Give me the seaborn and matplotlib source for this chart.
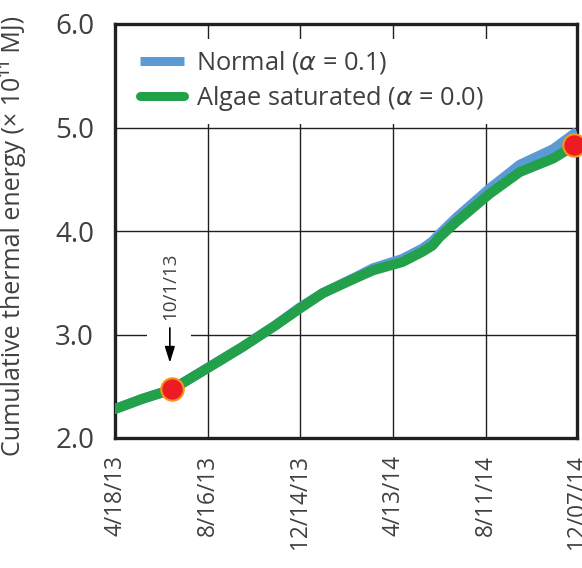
import matplotlib
matplotlib.use("Agg")
import matplotlib.pyplot as plt
import matplotlib.dates as mdates
from matplotlib.patches import Rectangle
import seaborn as sns
import pandas as pd

# ---- data ----
dates = ["2013-04-18", "2013-05-24", "2013-07-01", "2013-08-19", "2013-09-30",
         "2013-11-12", "2013-12-13", "2014-01-12", "2014-02-25", "2014-03-18",
         "2014-04-25", "2014-05-21", "2014-06-03", "2014-06-12", "2014-07-04",
         "2014-08-16", "2014-09-24", "2014-11-06", "2014-12-07"]
normal = [2.28, 2.38, 2.47, 2.69, 2.88, 3.09, 3.26, 3.40, 3.56, 3.64,
          3.73, 3.83, 3.90, 3.97, 4.13, 4.41, 4.64, 4.79, 4.96]
algae = [2.28, 2.38, 2.47, 2.69, 2.88, 3.09, 3.25, 3.40, 3.55, 3.62,
         3.70, 3.80, 3.86, 3.94, 4.09, 4.36, 4.57, 4.70, 4.84]
marker_dates = ["2013-07-01", "2014-12-03"]
marker_vals = [2.47, 4.83]
tick_dates = ["2013-04-18", "2013-08-16", "2013-12-14", "2014-04-13",
              "2014-08-11", "2014-12-07"]
tick_labels = ["4/18/13", "8/16/13", "12/14/13", "4/13/14", "8/11/14", "12/07/14"]
yticks = [2.0, 3.0, 4.0, 5.0, 6.0]
label_normal = r"Normal ($\alpha$ = 0.1)"
label_algae = r"Algae saturated ($\alpha$ = 0.0)"
annot_text = "10/1/13"

df = pd.DataFrame({"date": pd.to_datetime(dates), "normal": normal, "algae": algae})

sns.set_theme(style="white")
plt.rcParams["font.family"] = ["Open Sans", "DejaVu Sans"]
plt.rcParams["font.weight"] = "normal"
plt.rcParams["mathtext.fontset"] = "dejavusans"

text_col = "#404040"
frame_col = "#231f20"

fig = plt.figure(figsize=(5.82, 5.68), dpi=100)
ax = fig.add_axes([115 / 582, 1 - 438 / 568, 462 / 582, 414 / 568])

sns.lineplot(data=df, x="date", y="normal", ax=ax, color="#5b9bd5", lw=7.2,
             label=label_normal, zorder=3, solid_capstyle="butt")
sns.lineplot(data=df, x="date", y="algae", ax=ax, color="#22a14a", lw=7.2,
             label=label_algae, zorder=4, solid_capstyle="round")

mk = pd.DataFrame({"date": pd.to_datetime(marker_dates), "v": marker_vals})
sns.scatterplot(data=mk, x="date", y="v", ax=ax, s=260, color="#ed1c24",
                edgecolor="#f7941d", linewidth=1.5, zorder=6, legend=False,
                clip_on=False)

ax.set_xlim(pd.Timestamp("2013-04-18"), pd.Timestamp("2014-12-07"))
ax.set_ylim(2.0, 6.0)
ax.set_xticks(pd.to_datetime(tick_dates))
ax.set_xticklabels(tick_labels, rotation=90, fontsize=16.3, color=text_col)
ax.set_yticks(yticks)
ax.set_yticklabels([f"{v:.1f}" for v in yticks], fontsize=20, color=text_col)
ax.tick_params(axis="x", length=0, pad=12)
ax.tick_params(axis="y", length=0, pad=15)

ax.grid(True, color=frame_col, lw=1.0, zorder=1)
ax.set_axisbelow(True)
for s in ax.spines.values():
    s.set_color(frame_col)
    s.set_linewidth(2.4)
    s.set_visible(True)

ax.set_xlabel("")
ax.set_ylabel("Cumulative thermal energy (× 10¹¹ MJ)", fontsize=18.0,
              color=text_col)
ax.yaxis.set_label_coords(-0.193, 0.487)

# annotation with arrow
ax.add_patch(Rectangle((mdates.date2num(pd.Timestamp("2013-05-30")), 2.96),
                       56, 0.08, facecolor="white", edgecolor="none", zorder=1.5))
ax.annotate("", xy=(pd.Timestamp("2013-06-28"), 2.70),
            xytext=(pd.Timestamp("2013-06-28"), 3.09),
            arrowprops=dict(arrowstyle="-|>,head_length=0.8,head_width=0.25",
                            color="black", lw=1.2), zorder=5)
ax.text(pd.Timestamp("2013-06-28"), 3.47, annot_text, rotation=90, ha="center",
        va="center", fontsize=13.5, color=text_col, zorder=5)

leg = ax.legend(loc="upper left", bbox_to_anchor=(0.015, 0.982), frameon=True,
                fontsize=18.3, handlelength=1.75, handletextpad=0.45,
                labelspacing=0.32, borderaxespad=0.3)
leg.get_frame().set_edgecolor("none")
leg.get_frame().set_facecolor("white")
leg.get_frame().set_alpha(1.0)
for t in leg.get_texts():
    t.set_color(text_col)
for h in leg.get_lines():
    h.set_linewidth(6.5)
leg.set_zorder(7)

fig.savefig("out.png", dpi=100, facecolor="white")
